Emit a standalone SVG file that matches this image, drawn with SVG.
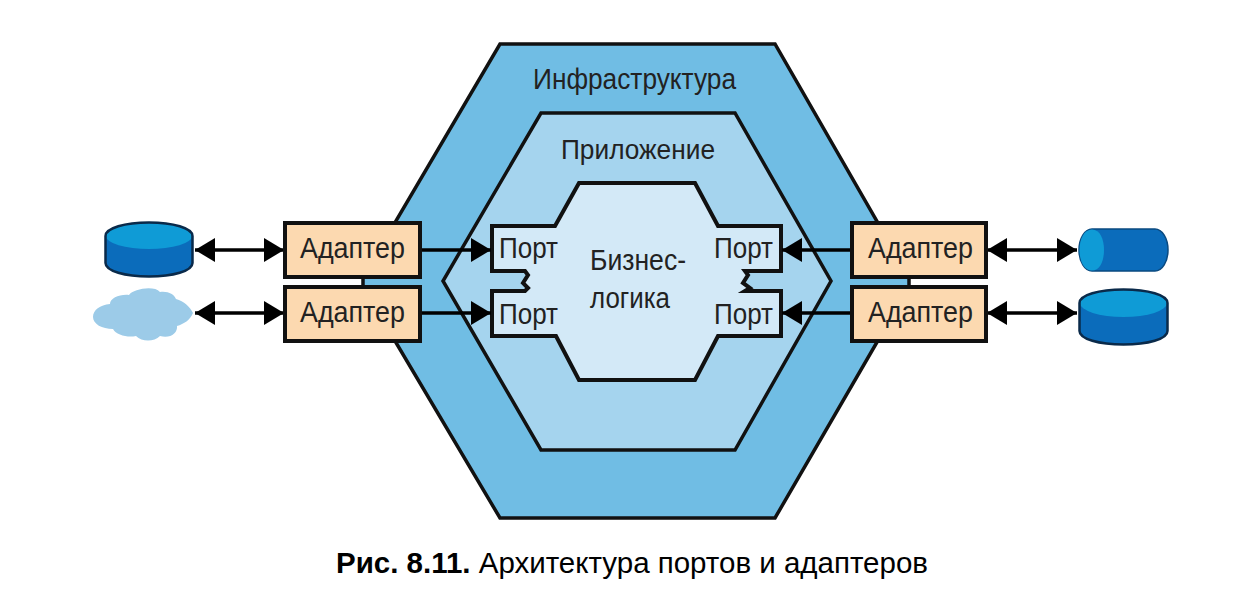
<svg xmlns="http://www.w3.org/2000/svg" width="1252" height="616" viewBox="0 0 1252 616">
<style>
text{font-family:"Liberation Sans",Arial,sans-serif;fill:#222;font-size:30px}
.hex{stroke:#111;stroke-width:3.5;stroke-linejoin:miter}
.box{fill:#fcd9b0;stroke:#111;stroke-width:4}
.ln{fill:none;stroke:#000;stroke-width:3.5}
.cap{fill:#000;font-size:29.500px}
.dark{fill:#0b6cbb}
.light{fill:#0f9bd6}
.edge{fill:none;stroke:#0a2a4a;stroke-width:2.500}
</style>
<defs>
<marker id="ah" markerUnits="userSpaceOnUse" markerWidth="20" markerHeight="24" refX="20" refY="12" orient="auto-start-reverse"><path d="M0 0L20 12L0 24Z" fill="#000"/></marker>
</defs>
<rect width="1252" height="616" fill="#fff"/>
<g id="infrastructure"><polygon class="hex" fill="#70bde4" points="500,44 775,44 909,277 909,287 775,518 500,518 363,287 363,277"/><text x="533" y="89" textLength="203" lengthAdjust="spacingAndGlyphs">Инфраструктура</text></g>
<g id="application"><polygon class="hex" fill="#a5d4ee" points="541,113 735,113 831,281 735,450 541,450 443,281"/><text x="561" y="159" textLength="154" lengthAdjust="spacingAndGlyphs" style="font-size:28px">Приложение</text></g>
<g id="business-logic"><polygon class="hex" style="stroke-width:4" fill="#d3e9f7" points="579,183 695,183 718,226 781,226 781,271 745,271 748,275 743,283 750,288 745,291 781,291 781,336 718,336 695,380 579,380 556,336 492,336 492,291 525,291 528,288 523,283 528,275 525,271 492,271 492,226 555,226"/><text x="590" y="270" textLength="96" lengthAdjust="spacingAndGlyphs" style="font-size:29px">Бизнес-</text><text x="590" y="308" textLength="80" lengthAdjust="spacingAndGlyphs" style="font-size:29px">логика</text></g>
<g id="port-1"><text x="499" y="258" textLength="59" lengthAdjust="spacingAndGlyphs" style="font-size:29px">Порт</text></g>
<g id="port-2"><text x="499" y="324" textLength="59" lengthAdjust="spacingAndGlyphs" style="font-size:29px">Порт</text></g>
<g id="port-3"><text x="714" y="258" textLength="59" lengthAdjust="spacingAndGlyphs" style="font-size:29px">Порт</text></g>
<g id="port-4"><text x="714" y="324" textLength="59" lengthAdjust="spacingAndGlyphs" style="font-size:29px">Порт</text></g>
<g id="connectors">
<line class="ln" x1="195" y1="250" x2="284" y2="250" marker-start="url(#ah)" marker-end="url(#ah)"/>
<line class="ln" x1="195" y1="313" x2="284" y2="313" marker-start="url(#ah)" marker-end="url(#ah)"/>
<line class="ln" x1="420" y1="250" x2="491" y2="250" marker-end="url(#ah)"/>
<line class="ln" x1="420" y1="313" x2="491" y2="313" marker-end="url(#ah)"/>
<line class="ln" x1="852" y1="250" x2="782" y2="250" marker-end="url(#ah)"/>
<line class="ln" x1="852" y1="313" x2="782" y2="313" marker-end="url(#ah)"/>
<line class="ln" x1="987" y1="250" x2="1077" y2="250" marker-start="url(#ah)" marker-end="url(#ah)"/>
<line class="ln" x1="987" y1="313" x2="1077" y2="313" marker-start="url(#ah)" marker-end="url(#ah)"/>
</g>
<g id="adapter-1"><rect class="box" x="285" y="223" width="135" height="54"/><text x="300" y="258" textLength="105" lengthAdjust="spacingAndGlyphs">Адаптер</text></g>
<g id="adapter-2"><rect class="box" x="285" y="287" width="135" height="54"/><text x="300" y="322" textLength="105" lengthAdjust="spacingAndGlyphs">Адаптер</text></g>
<g id="adapter-3"><rect class="box" x="852" y="223" width="134" height="54"/><text x="868" y="258" textLength="105" lengthAdjust="spacingAndGlyphs">Адаптер</text></g>
<g id="adapter-4"><rect class="box" x="852" y="287" width="134" height="54"/><text x="868" y="322" textLength="105" lengthAdjust="spacingAndGlyphs">Адаптер</text></g>
<g id="db-left"><path class="dark" d="M105.500 236V263C105.500 271 125 276.500 149 276.500S192.500 271 192.500 263V236C192.500 228 173 222.500 149 222.500S105.500 228 105.500 236Z"/><ellipse class="light" cx="149" cy="236" rx="43" ry="13"/><path class="edge" d="M105.500 263V236C105.500 228 125 222.500 149 222.500S192.500 228 192.500 236V263C192.500 271 173 276.500 149 276.500S105.500 271 105.500 263Z"/></g>
<g id="cloud"><path fill="#9ccbe8" d="M93 317C93 310 100 305 110 304C110 298 120 294 129 295C133 289 154 285 160 292C168 291 174 294 176 299C184 301 190 307 193 313C190 320 184 324 177 326C178 333 170 339 160 336C154 342 142 342 136 336C128 338 116 335 113 329C102 329 93 324 93 317Z"/></g>
<g id="cylinder-right"><rect x="1079" y="229" width="89" height="42" rx="13" ry="21" fill="#0b6cbb" stroke="#0a4a80" stroke-width="1.500"/><path class="light" d="M1092 229.500C1084 229.500 1079.500 239 1079.500 250S1084 270.500 1092 270.500C1100 270.500 1104 261 1104 250S1100 229.500 1092 229.500Z"/></g>
<g id="db-right"><path class="dark" d="M1079.500 303V331C1079.500 339 1099 344.500 1123.500 344.500S1167.500 339 1167.500 331V303C1167.500 295 1148 289.500 1123.500 289.500S1079.500 295 1079.500 303Z"/><ellipse class="light" cx="1123.500" cy="303" rx="43.500" ry="14"/><path class="edge" d="M1079.500 331V303C1079.500 295 1099 289.500 1123.500 289.500S1167.500 295 1167.500 303V331C1167.500 339 1148 344.500 1123.500 344.500S1079.500 339 1079.500 331Z"/></g>
<text x="336" y="573" class="cap" textLength="592" lengthAdjust="spacingAndGlyphs"><tspan font-weight="bold">Рис. 8.11.</tspan> Архитектура портов и адаптеров</text>
</svg>
